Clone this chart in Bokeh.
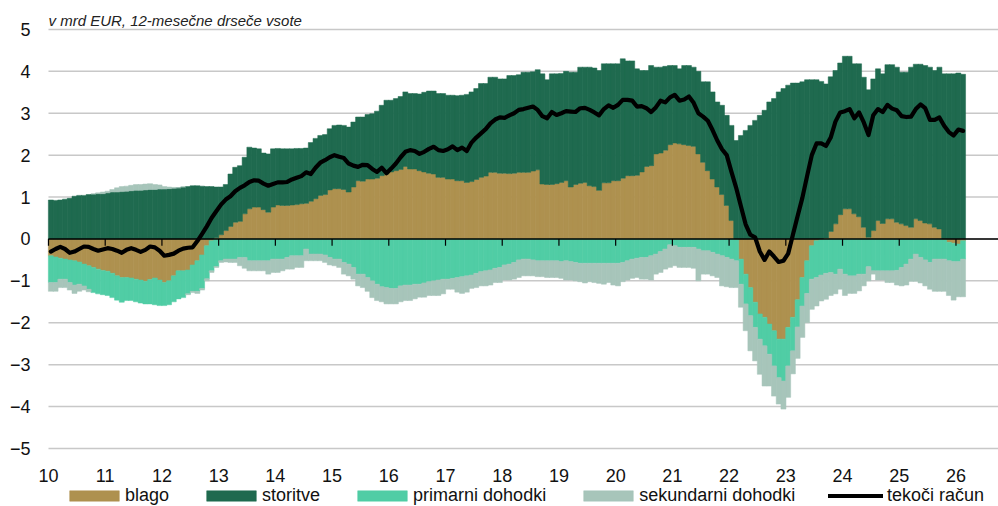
import numpy as np
import pandas as pd
from bokeh.plotting import figure
from bokeh.models import Range1d, Legend, LegendItem, Label
from bokeh.core.properties import value
from bokeh.embed import file_html
from bokeh.resources import INLINE

# ---------------- data (12-month rolling sums, bn EUR), Jan 2010 - Feb 2026 ----------------
months = pd.date_range("2010-01-01", periods=194, freq="MS")

blago = [
    -0.40, -0.43, -0.46, -0.48, -0.50, -0.52, -0.55, -0.60, -0.64, -0.68,
    -0.72, -0.75, -0.77, -0.82, -0.88, -0.92, -0.92, -0.93, -0.96, -0.98,
    -1.01, -0.97, -0.93, -0.98, -1.04, -1.00, -0.88, -0.76, -0.76, -0.74,
    -0.62, -0.52, -0.38, -0.16, -0.04, 0.03, 0.10, 0.20, 0.30, 0.40,
    0.42, 0.60, 0.72, 0.76, 0.76, 0.70, 0.64, 0.76, 0.81, 0.80,
    0.80, 0.81, 0.82, 0.84, 0.85, 0.90, 0.96, 1.04, 1.06, 1.17,
    1.20, 1.20, 1.18, 1.12, 1.24, 1.39, 1.38, 1.43, 1.43, 1.45,
    1.51, 1.55, 1.60, 1.63, 1.66, 1.73, 1.67, 1.67, 1.63, 1.60,
    1.57, 1.55, 1.47, 1.47, 1.43, 1.43, 1.39, 1.39, 1.35, 1.37,
    1.42, 1.47, 1.50, 1.59, 1.59, 1.57, 1.57, 1.56, 1.57, 1.59,
    1.59, 1.59, 1.62, 1.65, 1.31, 1.30, 1.30, 1.32, 1.35, 1.39,
    1.24, 1.30, 1.33, 1.35, 1.27, 1.25, 1.16, 1.34, 1.34, 1.39,
    1.39, 1.45, 1.51, 1.51, 1.52, 1.60, 1.73, 1.75, 2.03, 2.05,
    2.12, 2.25, 2.29, 2.27, 2.25, 2.23, 2.21, 2.03, 1.83, 1.63,
    1.43, 1.24, 1.06, 0.80, 0.44, -0.02, -0.48, -0.84, -1.16, -1.51,
    -1.79, -1.87, -2.03, -2.19, -2.39, -2.39, -2.11, -1.87, -1.45, -0.92,
    -0.52, -0.16, -0.04, -0.02, 0.02, 0.18, 0.36, 0.58, 0.72, 0.72,
    0.60, 0.53, 0.28, 0.04, 0.20, 0.44, 0.37, 0.48, 0.48, 0.40,
    0.36, 0.32, 0.28, 0.48, 0.44, 0.38, 0.36, 0.28, 0.24, -0.02,
    -0.08, -0.10, -0.12, -0.04,
]

storitve = [
    0.93, 0.92, 0.93, 0.95, 0.97, 1.02, 1.04, 1.04, 1.06, 1.07,
    1.08, 1.08, 1.10, 1.12, 1.12, 1.13, 1.14, 1.15, 1.16, 1.16,
    1.17, 1.18, 1.18, 1.19, 1.19, 1.20, 1.21, 1.22, 1.24, 1.25,
    1.27, 1.27, 1.26, 1.25, 1.25, 1.21, 1.14, 1.10, 1.25, 1.31,
    1.33, 1.35, 1.47, 1.41, 1.39, 1.35, 1.39, 1.39, 1.35, 1.35,
    1.35, 1.34, 1.34, 1.32, 1.32, 1.40, 1.44, 1.43, 1.43, 1.46,
    1.51, 1.52, 1.53, 1.55, 1.55, 1.52, 1.53, 1.54, 1.56, 1.60,
    1.68, 1.76, 1.71, 1.72, 1.74, 1.78, 1.80, 1.80, 1.83, 1.90,
    1.96, 1.98, 2.00, 2.00, 2.00, 2.00, 2.03, 2.04, 2.10, 2.14,
    2.17, 2.24, 2.21, 2.27, 2.27, 2.25, 2.25, 2.34, 2.33, 2.33,
    2.39, 2.39, 2.37, 2.39, 2.63, 2.50, 2.64, 2.62, 2.60, 2.61,
    2.74, 2.68, 2.77, 2.75, 2.83, 2.83, 2.86, 2.84, 2.84, 2.79,
    2.79, 2.85, 2.74, 2.74, 2.54, 2.42, 2.29, 2.39, 2.07, 2.05,
    2.00, 1.89, 1.85, 1.79, 1.89, 1.91, 1.89, 1.97, 1.92, 2.12,
    2.08, 2.03, 2.13, 2.15, 2.27, 2.35, 2.47, 2.59, 2.71, 2.83,
    2.95, 3.07, 3.27, 3.35, 3.51, 3.59, 3.67, 3.72, 3.72, 3.75,
    3.80, 3.80, 3.80, 3.76, 3.68, 3.69, 3.66, 3.62, 3.64, 3.64,
    3.58, 3.65, 3.58, 3.52, 3.62, 3.62, 3.57, 3.68, 3.68, 3.70,
    3.62, 3.66, 3.82, 3.69, 3.73, 3.76, 3.74, 3.74, 3.86, 3.94,
    3.94, 3.94, 3.96, 3.93,
]

primarni = [
    -0.64, -0.61, -0.50, -0.48, -0.54, -0.58, -0.53, -0.52, -0.56, -0.60,
    -0.59, -0.58, -0.58, -0.58, -0.58, -0.59, -0.55, -0.54, -0.54, -0.55,
    -0.54, -0.58, -0.64, -0.61, -0.55, -0.57, -0.62, -0.67, -0.64, -0.57,
    -0.63, -0.73, -0.80, -0.79, -0.72, -0.66, -0.52, -0.48, -0.48, -0.48,
    -0.44, -0.44, -0.52, -0.52, -0.52, -0.52, -0.52, -0.48, -0.48, -0.48,
    -0.44, -0.40, -0.40, -0.40, -0.24, -0.36, -0.36, -0.36, -0.38, -0.44,
    -0.48, -0.48, -0.56, -0.60, -0.68, -0.84, -0.84, -0.92, -1.00, -1.08,
    -1.14, -1.16, -1.18, -1.18, -1.12, -1.10, -1.10, -1.08, -1.08, -1.05,
    -1.02, -1.00, -0.98, -0.96, -0.96, -0.94, -0.92, -0.90, -0.88, -0.86,
    -0.82, -0.78, -0.76, -0.74, -0.70, -0.68, -0.62, -0.60, -0.56, -0.50,
    -0.48, -0.48, -0.50, -0.52, -0.52, -0.52, -0.52, -0.52, -0.54, -0.52,
    -0.54, -0.56, -0.58, -0.58, -0.58, -0.58, -0.58, -0.58, -0.58, -0.58,
    -0.58, -0.56, -0.52, -0.48, -0.46, -0.44, -0.44, -0.40, -0.36, -0.30,
    -0.24, -0.14, -0.16, -0.20, -0.20, -0.20, -0.20, -0.24, -0.28, -0.28,
    -0.32, -0.36, -0.40, -0.44, -0.48, -0.50, -0.60, -0.71, -0.67, -0.60,
    -0.60, -0.68, -0.72, -0.84, -0.92, -1.00, -0.92, -0.80, -0.65, -0.68,
    -0.78, -0.80, -0.88, -0.84, -0.82, -0.80, -0.84, -0.72, -0.84, -0.88,
    -0.88, -0.84, -0.84, -0.66, -0.76, -0.76, -0.76, -0.76, -0.76, -0.75,
    -0.68, -0.60, -0.48, -0.36, -0.44, -0.50, -0.56, -0.48, -0.48, -0.46,
    -0.44, -0.44, -0.42, -0.44,
]

sekundarni = [
    -0.21, -0.21, -0.20, -0.20, -0.18, -0.20, -0.17, -0.10, -0.06, 0.00,
    0.02, 0.04, 0.04, 0.06, 0.10, 0.12, 0.12, 0.13, 0.14, 0.14,
    0.14, 0.14, 0.12, 0.10, 0.06, 0.04, 0.02, 0.00, 0.00, -0.02,
    -0.03, -0.05, -0.04, -0.05, -0.04, -0.02, -0.04, -0.07, -0.08, -0.08,
    -0.20, -0.26, -0.24, -0.24, -0.24, -0.24, -0.32, -0.32, -0.32, -0.28,
    -0.28, -0.32, -0.28, -0.28, -0.28, -0.16, -0.16, -0.16, -0.18, -0.18,
    -0.16, -0.20, -0.28, -0.28, -0.28, -0.28, -0.32, -0.33, -0.40, -0.39,
    -0.36, -0.39, -0.37, -0.37, -0.38, -0.37, -0.37, -0.35, -0.31, -0.34,
    -0.33, -0.35, -0.37, -0.35, -0.24, -0.26, -0.35, -0.40, -0.39, -0.32,
    -0.34, -0.34, -0.36, -0.36, -0.34, -0.36, -0.36, -0.38, -0.40, -0.42,
    -0.40, -0.40, -0.38, -0.38, -0.38, -0.40, -0.40, -0.40, -0.40, -0.46,
    -0.44, -0.44, -0.44, -0.47, -0.44, -0.46, -0.48, -0.50, -0.46, -0.52,
    -0.54, -0.46, -0.46, -0.46, -0.46, -0.52, -0.52, -0.58, -0.48, -0.50,
    -0.48, -0.54, -0.48, -0.48, -0.48, -0.48, -0.50, -0.76, -0.56, -0.56,
    -0.56, -0.56, -0.72, -0.70, -0.68, -0.64, -0.55, -0.64, -0.84, -0.80,
    -0.84, -0.96, -0.76, -0.72, -0.63, -0.67, -0.75, -0.55, -0.75, -0.75,
    -0.70, -0.72, -0.68, -0.62, -0.62, -0.55, -0.47, -0.48, -0.51, -0.42,
    -0.42, -0.40, -0.28, -0.34, -0.08, -0.22, -0.22, -0.28, -0.28, -0.35,
    -0.44, -0.50, -0.53, -0.65, -0.61, -0.62, -0.64, -0.77, -0.77, -0.77,
    -0.83, -0.92, -0.84, -0.90,
]

tekoci_racun = [
    -0.30, -0.24, -0.19, -0.24, -0.33, -0.30, -0.24, -0.18, -0.19, -0.24,
    -0.28, -0.25, -0.22, -0.24, -0.28, -0.33, -0.26, -0.22, -0.26, -0.31,
    -0.26, -0.18, -0.20, -0.28, -0.40, -0.38, -0.35, -0.28, -0.23, -0.21,
    -0.20, -0.05, 0.12, 0.30, 0.50, 0.66, 0.82, 0.94, 1.02, 1.14,
    1.22, 1.28, 1.36, 1.40, 1.39, 1.32, 1.27, 1.31, 1.35, 1.35,
    1.36, 1.42, 1.46, 1.50, 1.59, 1.55, 1.70, 1.82, 1.88, 1.95,
    2.00, 1.96, 1.93, 1.80, 1.75, 1.72, 1.77, 1.76, 1.67, 1.60,
    1.70, 1.57, 1.68, 1.80, 1.95, 2.08, 2.12, 2.10, 2.03, 2.08,
    2.15, 2.20, 2.12, 2.10, 2.14, 2.21, 2.12, 2.18, 2.10, 2.30,
    2.42, 2.52, 2.62, 2.76, 2.85, 2.90, 2.89, 2.95, 3.00, 3.08,
    3.10, 3.13, 3.16, 3.08, 2.93, 2.88, 3.03, 2.96, 3.00, 3.05,
    3.04, 3.03, 3.12, 3.13, 3.08, 3.02, 2.95, 3.10, 3.19, 3.13,
    3.20, 3.32, 3.32, 3.30, 3.16, 3.17, 3.12, 3.03, 3.14, 3.30,
    3.26, 3.38, 3.44, 3.30, 3.33, 3.40, 3.25, 3.00, 2.92, 2.82,
    2.60, 2.35, 2.14, 2.00, 1.60, 1.22, 0.78, 0.35, 0.10, 0.04,
    -0.30, -0.50, -0.30, -0.42, -0.55, -0.52, -0.35, 0.10, 0.55, 0.98,
    1.50, 2.00, 2.28, 2.28, 2.22, 2.42, 2.80, 3.02, 3.05, 3.10,
    2.88, 3.02, 2.78, 2.48, 2.95, 3.10, 3.03, 3.20, 3.11, 3.07,
    2.93, 2.91, 2.92, 3.10, 3.21, 3.12, 2.84, 2.84, 2.90, 2.70,
    2.55, 2.47, 2.61, 2.58,
]

series_names = ["blago", "storitve", "primarni dohodki", "sekundarni dohodki"]
line_name = "tekoči račun"
x_tick_values = list(range(10, 27))
x_tick_labels = [str(v) for v in x_tick_values]
y_tick_values = list(range(-5, 6))
y_tick_labels = ["\u22125", "\u22124", "\u22123", "\u22122", "\u22121", "0", "1", "2", "3", "4", "5"]
title_text = "v mrd EUR, 12-mesečne drseče vsote"

# ---------------- styling / layout ----------------
colors = ["#AE914F", "#1F6A4F", "#50CDA5", "#A7C5BA"]
FONT = "Liberation Sans"
X_START, X_END = 10, 26.75           # plotted span (gridlines run over it)
X_MIN = 9.6827                        # frame starts a bit left so the "10" label is not clipped
Y_MIN, Y_MAX = -6.385, 5.5            # frame spans the full height; y=5 / y=-5 gridlines at 29 / 448 px
X_LABEL_Y = -5.635                    # row of the year labels (below the -5 gridline)
BAR_W = 1.06 / 12                     # slight overlap so neighbouring bars leave no seams

n = len(months)
for arr in (blago, storitve, primarni, sekundarni, tekoci_racun):
    assert len(arr) == n

x_center = np.array([(m.year - 2000) + (m.month - 1) / 12 + 1 / 24 for m in months])

p = figure(width=998, height=506,
           x_range=Range1d(X_MIN, X_END), y_range=Range1d(Y_MIN, Y_MAX),
           output_backend="svg", toolbar_location=None,
           min_border_left=30, min_border_right=0, min_border_top=8, min_border_bottom=0)
p.outline_line_color = None
p.background_fill_color = "white"
p.border_fill_color = "white"

# y axis (labels only); x axis replaced by year labels inside the frame
p.xaxis.visible = False
p.yaxis.ticker = y_tick_values
p.yaxis.major_label_overrides = {v: l for v, l in zip(y_tick_values, y_tick_labels)}
p.yaxis.axis_line_color = None
p.yaxis.major_tick_line_color = None
p.yaxis.minor_tick_line_color = None
p.yaxis.major_tick_out = 0
p.yaxis.major_tick_in = 0
p.yaxis.minor_tick_out = 0
p.yaxis.major_label_text_font = FONT
p.yaxis.major_label_text_font_size = "18px"
p.yaxis.major_label_text_color = "#111111"
p.yaxis.major_label_standoff = 0

p.xgrid.grid_line_color = None
p.ygrid.grid_line_color = None

# horizontal gridlines over the plotted span
p.segment(x0=[X_START] * len(y_tick_values), y0=y_tick_values,
          x1=[X_END] * len(y_tick_values), y1=y_tick_values,
          line_color="#C8C8C8", line_width=1.5)

# stacked bars (positives up, negatives down)
pos = np.zeros(n)
neg = np.zeros(n)
bar_renderers = []
for name, vals, col in zip(series_names, [blago, storitve, primarni, sekundarni], colors):
    v = np.array(vals, dtype=float)
    bottom = np.where(v >= 0, pos, neg + v)
    top = np.where(v >= 0, pos + v, neg)
    pos = np.where(v >= 0, pos + v, pos)
    neg = np.where(v < 0, neg + v, neg)
    r = p.vbar(x=x_center, width=BAR_W, bottom=bottom, top=top,
               fill_color=col, line_color=col, line_width=0.5)
    bar_renderers.append(r)

# zero line with year ticks
p.segment(x0=[X_START], y0=[0], x1=[X_END], y1=[0], line_color="black", line_width=1.5)
p.segment(x0=x_tick_values, y0=[0] * len(x_tick_values),
          x1=x_tick_values, y1=[-0.16] * len(x_tick_values),
          line_color="black", line_width=1.2)

# current account line
line_r = p.line(x_center, tekoci_racun, line_color="black", line_width=4.2,
                line_join="round", line_cap="round")

# year labels
p.text(x=x_tick_values, y=[X_LABEL_Y] * len(x_tick_values), text=x_tick_labels,
       text_font=value(FONT), text_font_size="18px", text_color="#111111",
       text_align="center", text_baseline="middle")

# title text
p.add_layout(Label(x=X_START, y=5.22, text=title_text, text_font=FONT,
                   text_font_style="italic", text_font_size="15px",
                   text_baseline="middle", text_align="left", text_color="#222222"))

# legends (bars and line separately, so that swatch sizes match)
bar_items = [LegendItem(label=nm, renderers=[r]) for nm, r in zip(series_names, bar_renderers)]
legend_bars = Legend(items=bar_items, orientation="horizontal", location=(33, 0),
                     glyph_width=62, glyph_height=13, label_standoff=0, spacing=31,
                     padding=0, margin=0, border_line_color=None, background_fill_alpha=0,
                     label_text_font=FONT, label_text_font_size="18px",
                     label_text_color="#111111", label_height=18)
legend_line = Legend(items=[LegendItem(label=line_name, renderers=[line_r])],
                     orientation="horizontal", location=(798, 0),
                     glyph_width=55, glyph_height=13, label_standoff=4,
                     padding=0, margin=0, border_line_color=None, background_fill_alpha=0,
                     label_text_font=FONT, label_text_font_size="18px",
                     label_text_color="#111111", label_height=18)
p.add_layout(legend_bars)
p.add_layout(legend_line)

open("out.html", "w").write(file_html(p, INLINE))
